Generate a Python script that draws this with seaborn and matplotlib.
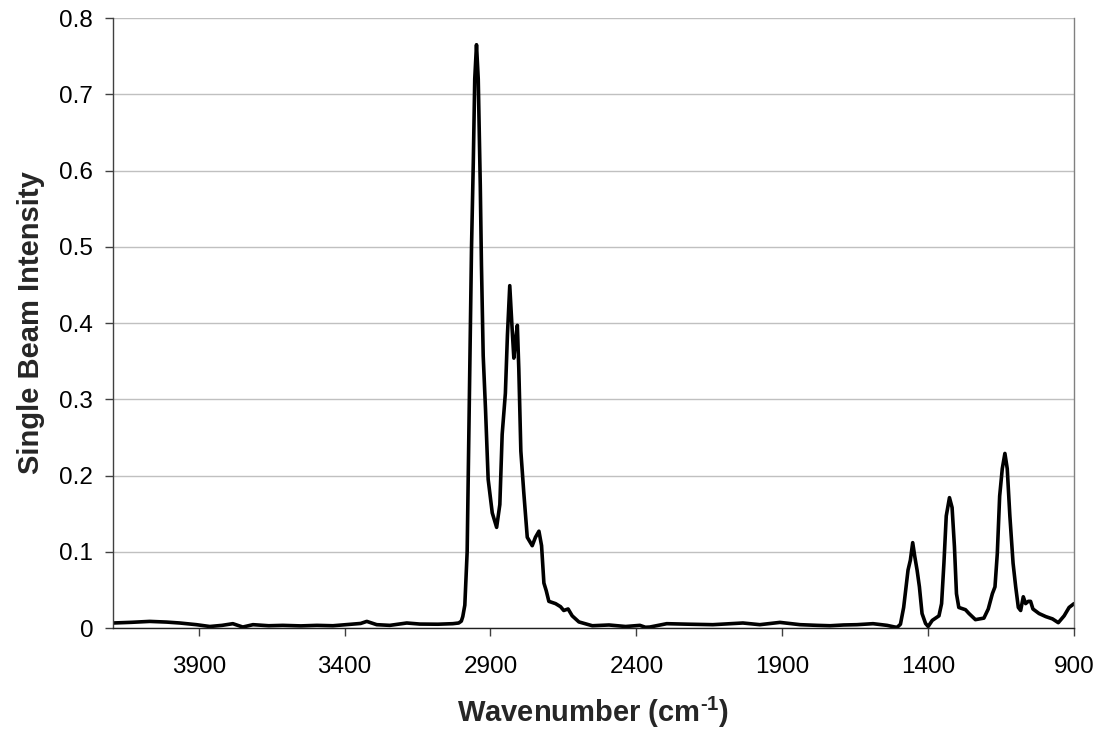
import numpy as np
import pandas as pd
import seaborn as sns
import matplotlib
matplotlib.use("Agg")
import matplotlib.pyplot as plt
from matplotlib.ticker import FuncFormatter, FixedLocator

wavenumber = [
    4193, 4130, 4068, 4010, 3965, 3908, 3862, 3820, 3783, 3749, 3714, 3660, 3612, 3550,
    3495, 3440, 3382, 3345, 3324, 3290, 3245, 3187, 3142, 3080, 3029, 3009, 3000, 2995,
    2988, 2980, 2972, 2965, 2959, 2954, 2948, 2942, 2935, 2931, 2925, 2917, 2908, 2894,
    2879, 2868, 2860, 2849, 2842, 2834, 2827, 2820, 2814, 2808, 2803, 2796, 2786, 2774,
    2757, 2746, 2734, 2725, 2717, 2709, 2700, 2677, 2660, 2649, 2634, 2620, 2597, 2551,
    2494, 2437, 2388, 2369, 2354, 2296, 2220, 2138, 2035, 1977, 1908, 1839, 1780, 1736,
    1690, 1644, 1589, 1541, 1514, 1506, 1495, 1484, 1469, 1461, 1453, 1446, 1438, 1430,
    1421, 1409, 1400, 1386, 1363, 1354, 1346, 1338, 1327, 1318, 1310, 1303, 1295, 1272,
    1260, 1238, 1209, 1194, 1180, 1171, 1163, 1155, 1146, 1137, 1129, 1120, 1109, 1100,
    1091, 1083, 1074, 1066, 1057, 1049, 1041, 1020, 997, 974, 954, 934, 917, 900
]
intensity = [
    0.0066, 0.0075, 0.0087, 0.0078, 0.0066, 0.0044, 0.0020, 0.0035, 0.0057, 0.0013, 0.0044, 0.0030, 0.0035, 0.0028,
    0.0035, 0.0030, 0.0048, 0.0060, 0.0087, 0.0044, 0.0035, 0.0066, 0.0052, 0.0050, 0.0057, 0.0066, 0.0090, 0.0150,
    0.0300, 0.1000, 0.3100, 0.5000, 0.6100, 0.7200, 0.7650, 0.7200, 0.5800, 0.4760, 0.3570, 0.2860, 0.1950, 0.1510,
    0.1320, 0.1620, 0.2540, 0.3080, 0.3840, 0.4490, 0.4000, 0.3540, 0.3780, 0.3970, 0.3400, 0.2320, 0.1780, 0.1190,
    0.1080, 0.1190, 0.1270, 0.1080, 0.0590, 0.0490, 0.0350, 0.0320, 0.0280, 0.0230, 0.0250, 0.0160, 0.0080, 0.0030,
    0.0040, 0.0020, 0.0035, 0.0010, 0.0013, 0.0057, 0.0050, 0.0044, 0.0066, 0.0044, 0.0074, 0.0044, 0.0035, 0.0030,
    0.0040, 0.0044, 0.0057, 0.0035, 0.0013, 0.0010, 0.0050, 0.0270, 0.0760, 0.0890, 0.1120, 0.0940, 0.0760, 0.0540,
    0.0190, 0.0060, 0.0020, 0.0100, 0.0160, 0.0320, 0.0850, 0.1470, 0.1710, 0.1580, 0.1070, 0.0450, 0.0270, 0.0240,
    0.0190, 0.0110, 0.0130, 0.0250, 0.0450, 0.0540, 0.0980, 0.1730, 0.2090, 0.2290, 0.2090, 0.1470, 0.0850, 0.0540,
    0.0270, 0.0230, 0.0410, 0.0320, 0.0350, 0.0350, 0.0250, 0.0190, 0.0150, 0.0120, 0.0070, 0.0160, 0.0270, 0.0320
]
x_ticks = [3900, 3400, 2900, 2400, 1900, 1400, 900]
y_ticks = [0, 0.1, 0.2, 0.3, 0.4, 0.5, 0.6, 0.7, 0.8]

df = pd.DataFrame({"Wavenumber": wavenumber, "Intensity": intensity})

sns.set_style("white")
plt.rcParams["font.family"] = ["Liberation Sans", "DejaVu Sans"]
plt.rcParams["mathtext.fontset"] = "custom"
plt.rcParams["mathtext.bf"] = "Liberation Sans:bold"
plt.rcParams["mathtext.rm"] = "Liberation Sans:bold"

fig = plt.figure(figsize=(10.99, 7.36), dpi=100)
ax = fig.add_axes([0.1025, 0.1467, 0.8748, 0.8288])

sns.lineplot(data=df, x="Wavenumber", y="Intensity", ax=ax, color="black",
             linewidth=2.6, sort=False, estimator=None)

ax.set_xlim(4195, 900)
ax.set_ylim(0, 0.8)
ax.xaxis.set_major_locator(FixedLocator(x_ticks))
ax.yaxis.set_major_locator(FixedLocator(y_ticks))
ax.yaxis.set_major_formatter(FuncFormatter(lambda v, p: "0" if abs(v) < 1e-9 else f"{v:.1f}"))
ax.xaxis.set_major_formatter(FuncFormatter(lambda v, p: f"{int(v)}"))

ax.grid(axis="y", color="#c0c0c0", linewidth=1.0)
ax.set_axisbelow(True)
ax.spines["top"].set_visible(False)
ax.spines["right"].set_color("#808080")
ax.spines["left"].set_color("#404040")
ax.spines["bottom"].set_color("#202020")
for s in ["left", "bottom", "right"]:
    ax.spines[s].set_linewidth(1.0)

ax.tick_params(axis="both", which="major", labelsize=17.5, colors="black",
               direction="out", length=6, width=1)
ax.tick_params(axis="x", length=6, pad=14, color="#404040", bottom=True)
ax.tick_params(axis="y", pad=8, color="#404040", left=True)

ax.set_xlabel("Wavenumber (cm$^{\\text{-1}}$)", fontsize=21, fontweight="bold", labelpad=12)
ax.set_ylabel("Single Beam Intensity", fontsize=21, fontweight="bold", labelpad=10)

fig.savefig("out.png", dpi=100)
